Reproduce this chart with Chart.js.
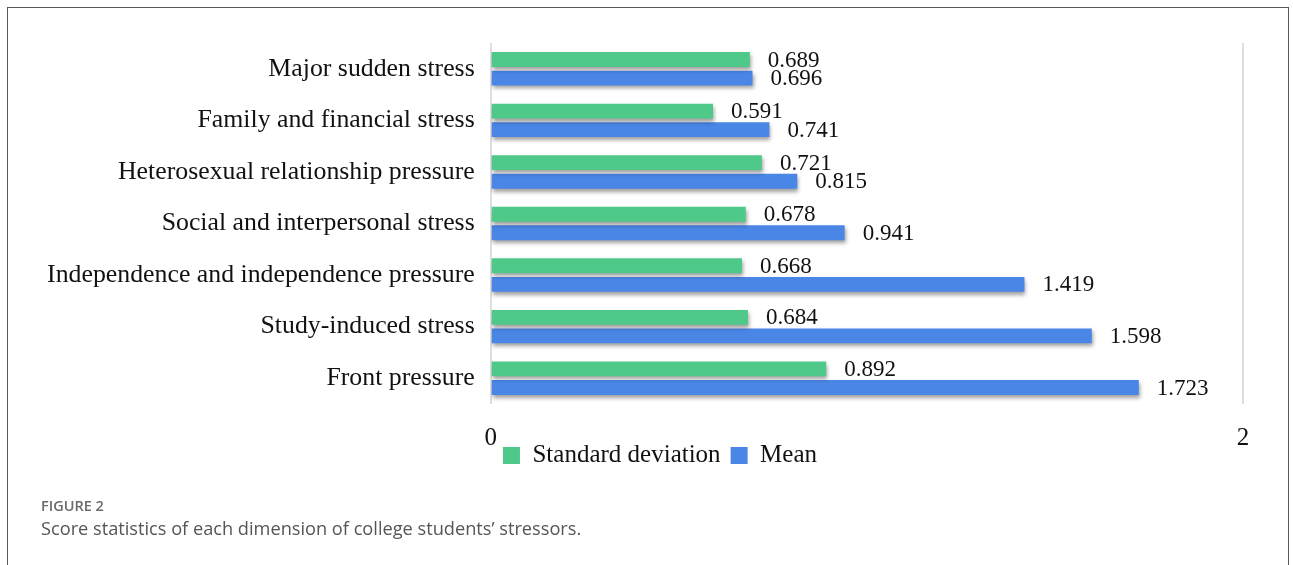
<!DOCTYPE html>
<html>
<head>
<meta charset="utf-8">
<script src="https://cdn.jsdelivr.net/npm/chart.js@4.4.1/dist/chart.umd.min.js"></script>
<style>
  html, body { margin: 0; padding: 0; background: #fff; }
  body { width: 1293px; height: 565px; position: relative; overflow: hidden; }
  .frame { position: absolute; left: 7px; top: 7px; width: 1280px; height: 620px;
           border: 1.5px solid #5a5a5a; border-bottom: none; }
  #chart { position: absolute; left: 0; top: 0; }
  .fig-label { position: absolute; left: 41px; top: 496px; font: 600 14.5px "Open Sans", sans-serif; color: #6a6a6a; }
  .fig-caption { position: absolute; left: 41px; top: 516px; font: 18.2px "Open Sans", sans-serif; color: #555; }
</style>
</head>
<body>
<div class="frame"></div>
<canvas id="chart" width="1293" height="517"></canvas>
<div class="fig-label">FIGURE 2</div>
<div class="fig-caption">Score statistics of each dimension of college students’ stressors.</div>
<script>
const categories = [
  'Major sudden stress',
  'Family and financial stress',
  'Heterosexual relationship pressure',
  'Social and interpersonal stress',
  'Independence and independence pressure',
  'Study-induced stress',
  'Front pressure'
];
const stdDev = [0.689, 0.591, 0.721, 0.678, 0.668, 0.684, 0.892];
const means  = [0.696, 0.741, 0.815, 0.941, 1.419, 1.598, 1.723];
const xTicks = [0, 2];

const serif = '"Liberation Serif", "Times New Roman", serif';

// soft drop shadow under the bars
const barShadow = {
  id: 'barShadow',
  beforeDatasetsDraw(chart) {
    const c = chart.ctx;
    c.save();
    c.shadowColor = 'rgba(0,0,0,0.38)';
    c.shadowBlur = 4;
    c.shadowOffsetX = 1;
    c.shadowOffsetY = 3;
  },
  afterDatasetsDraw(chart) { chart.ctx.restore(); }
};

// value text at the end of every bar
const valueLabels = {
  id: 'valueLabels',
  afterDatasetsDraw(chart) {
    const ctx = chart.ctx;
    ctx.save();
    ctx.font = '23px ' + serif;
    ctx.fillStyle = '#111';
    ctx.textBaseline = 'middle';
    ctx.textAlign = 'left';
    chart.data.datasets.forEach((ds, i) => {
      chart.getDatasetMeta(i).data.forEach((bar, j) => {
        ctx.fillText(ds.data[j].toFixed(3), bar.x + 18, bar.y + 1);
      });
    });
    ctx.restore();
  }
};

// legend sits tight under the tick row, centred a bit right of the canvas centre
const legendPlace = {
  id: 'legendPlace',
  afterLayout(chart) {
    const lg = chart.legend;
    lg.top -= 39;
    lg.bottom -= 39;
    lg.left = 77;
  }
};

new Chart(document.getElementById('chart'), {
  type: 'bar',
  data: {
    labels: categories,
    datasets: [
      { label: 'Standard deviation', data: stdDev, backgroundColor: '#4fc98a',
        categoryPercentage: 0.72, barPercentage: 0.8 },
      { label: 'Mean', data: means, backgroundColor: '#4a86e6',
        categoryPercentage: 0.72, barPercentage: 0.8 }
    ]
  },
  options: {
    indexAxis: 'y',
    responsive: false,
    animation: false,
    layout: { padding: { left: 30, right: 50, top: 43, bottom: 0 } },
    plugins: {
      tooltip: { enabled: false },
      legend: {
        position: 'bottom',
        labels: {
          font: { family: serif, size: 25 },
          color: '#111',
          boxWidth: 17,
          boxHeight: 17,
          padding: 10
        }
      }
    },
    scales: {
      x: {
        min: 0, max: 2,
        afterBuildTicks: s => { s.ticks = xTicks.map(v => ({ value: v })); },
        ticks: { font: { family: serif, size: 25 }, color: '#111', padding: 19 },
        grid: { color: '#dedede', lineWidth: 2, drawTicks: false },
        border: { display: false }
      },
      y: {
        afterFit: s => { s.width = 460.7; },
        ticks: { font: { family: serif, size: 25.8 }, color: '#111', padding: 16 },
        grid: { display: false, drawTicks: false },
        border: { display: false }
      }
    }
  },
  plugins: [barShadow, valueLabels, legendPlace]
});
</script>
</body>
</html>
